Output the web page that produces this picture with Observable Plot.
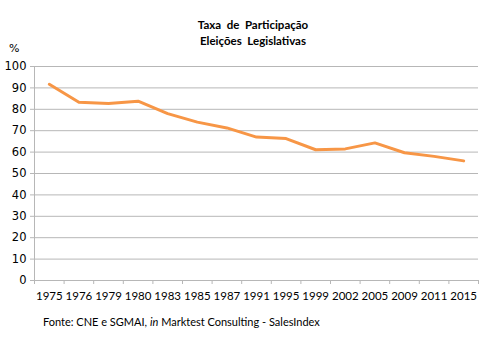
<!DOCTYPE html>
<html><head><meta charset="utf-8">
<script src="https://cdn.jsdelivr.net/npm/d3@7"></script>
<script src="https://cdn.jsdelivr.net/npm/@observablehq/plot@0.6"></script>
<style>
body{margin:0;background:#fff;}
#wrap{position:relative;width:492px;height:354px;overflow:hidden;}
#title{position:absolute;left:0;top:17px;width:506px;text-align:center;font:bold 11.5px Lato,sans-serif;line-height:16px;color:#000;}
#pct{position:absolute;left:9px;top:42px;font:11px "DejaVu Sans",sans-serif;color:#000;}
#cap{position:absolute;left:43px;top:315px;font:11px Lato,sans-serif;color:#000;}
#chart{position:absolute;left:0;top:0;}
</style></head>
<body><div id="wrap">
<div id="chart"></div>
<div id="title">Taxa&nbsp; de&nbsp; Participação<br>Eleições&nbsp; Legislativas</div>
<div id="pct">%</div>
<div id="cap">Fonte: CNE e SGMAI, <i>in</i> Marktest Consulting - SalesIndex</div>
</div>
<script>
const years = ["1975","1976","1979","1980","1983","1985","1987","1991","1995","1999","2002","2005","2009","2011","2015"];
const turnout = [91.7, 83.3, 82.7, 83.8, 78.0, 74.0, 71.3, 67.0, 66.3, 61.1, 61.5, 64.3, 59.7, 58.0, 55.9];
const yTicks = [0,10,20,30,40,50,60,70,80,90,100];

const W = 492, H = 354, mL = 34, mR = 14, mT = 66, mB = 74;
const frameW = W - mL - mR;
const half = frameW / years.length / 2;
const data = years.map((y, i) => ({year: y, value: turnout[i]}));
const grid = "#b7b7b7";

const chart = Plot.plot({
  width: W, height: H,
  marginLeft: mL, marginRight: mR, marginTop: mT, marginBottom: mB,
  x: {type: "point", domain: years, padding: 0.5, align: 0.5, round: false},
  y: {domain: [0, 100]},
  style: {background: "transparent"},
  marks: [
    Plot.ruleY(yTicks, {stroke: grid, strokeWidth: 1}),
    Plot.ruleY(yTicks, {stroke: grid, insetLeft: -4, insetRight: frameW}),
    Plot.ruleX(years, {stroke: grid, dx: -half, insetTop: H - mT - mB, insetBottom: -4}),
    Plot.ruleX([years[years.length - 1]], {stroke: grid, dx: half, insetTop: H - mT - mB, insetBottom: -4}),
    Plot.ruleX([years[0]], {stroke: grid, dx: -half, y1: 0, y2: 100}),
    Plot.axisY({ticks: yTicks, tickSize: 0, tickPadding: 8, fontSize: 11.5, fontFamily: "DejaVu Sans", fill: "#000", label: null}),
    Plot.axisX({tickSize: 0, tickPadding: 11, fontSize: 11.5, fontFamily: "Lato", fill: "#000", label: null}),
    Plot.line(data, {x: "year", y: "value", stroke: "#f79646", strokeWidth: 3, strokeLinejoin: "round"})
  ]
});
document.getElementById("chart").appendChild(chart);
</script>
</body></html>
